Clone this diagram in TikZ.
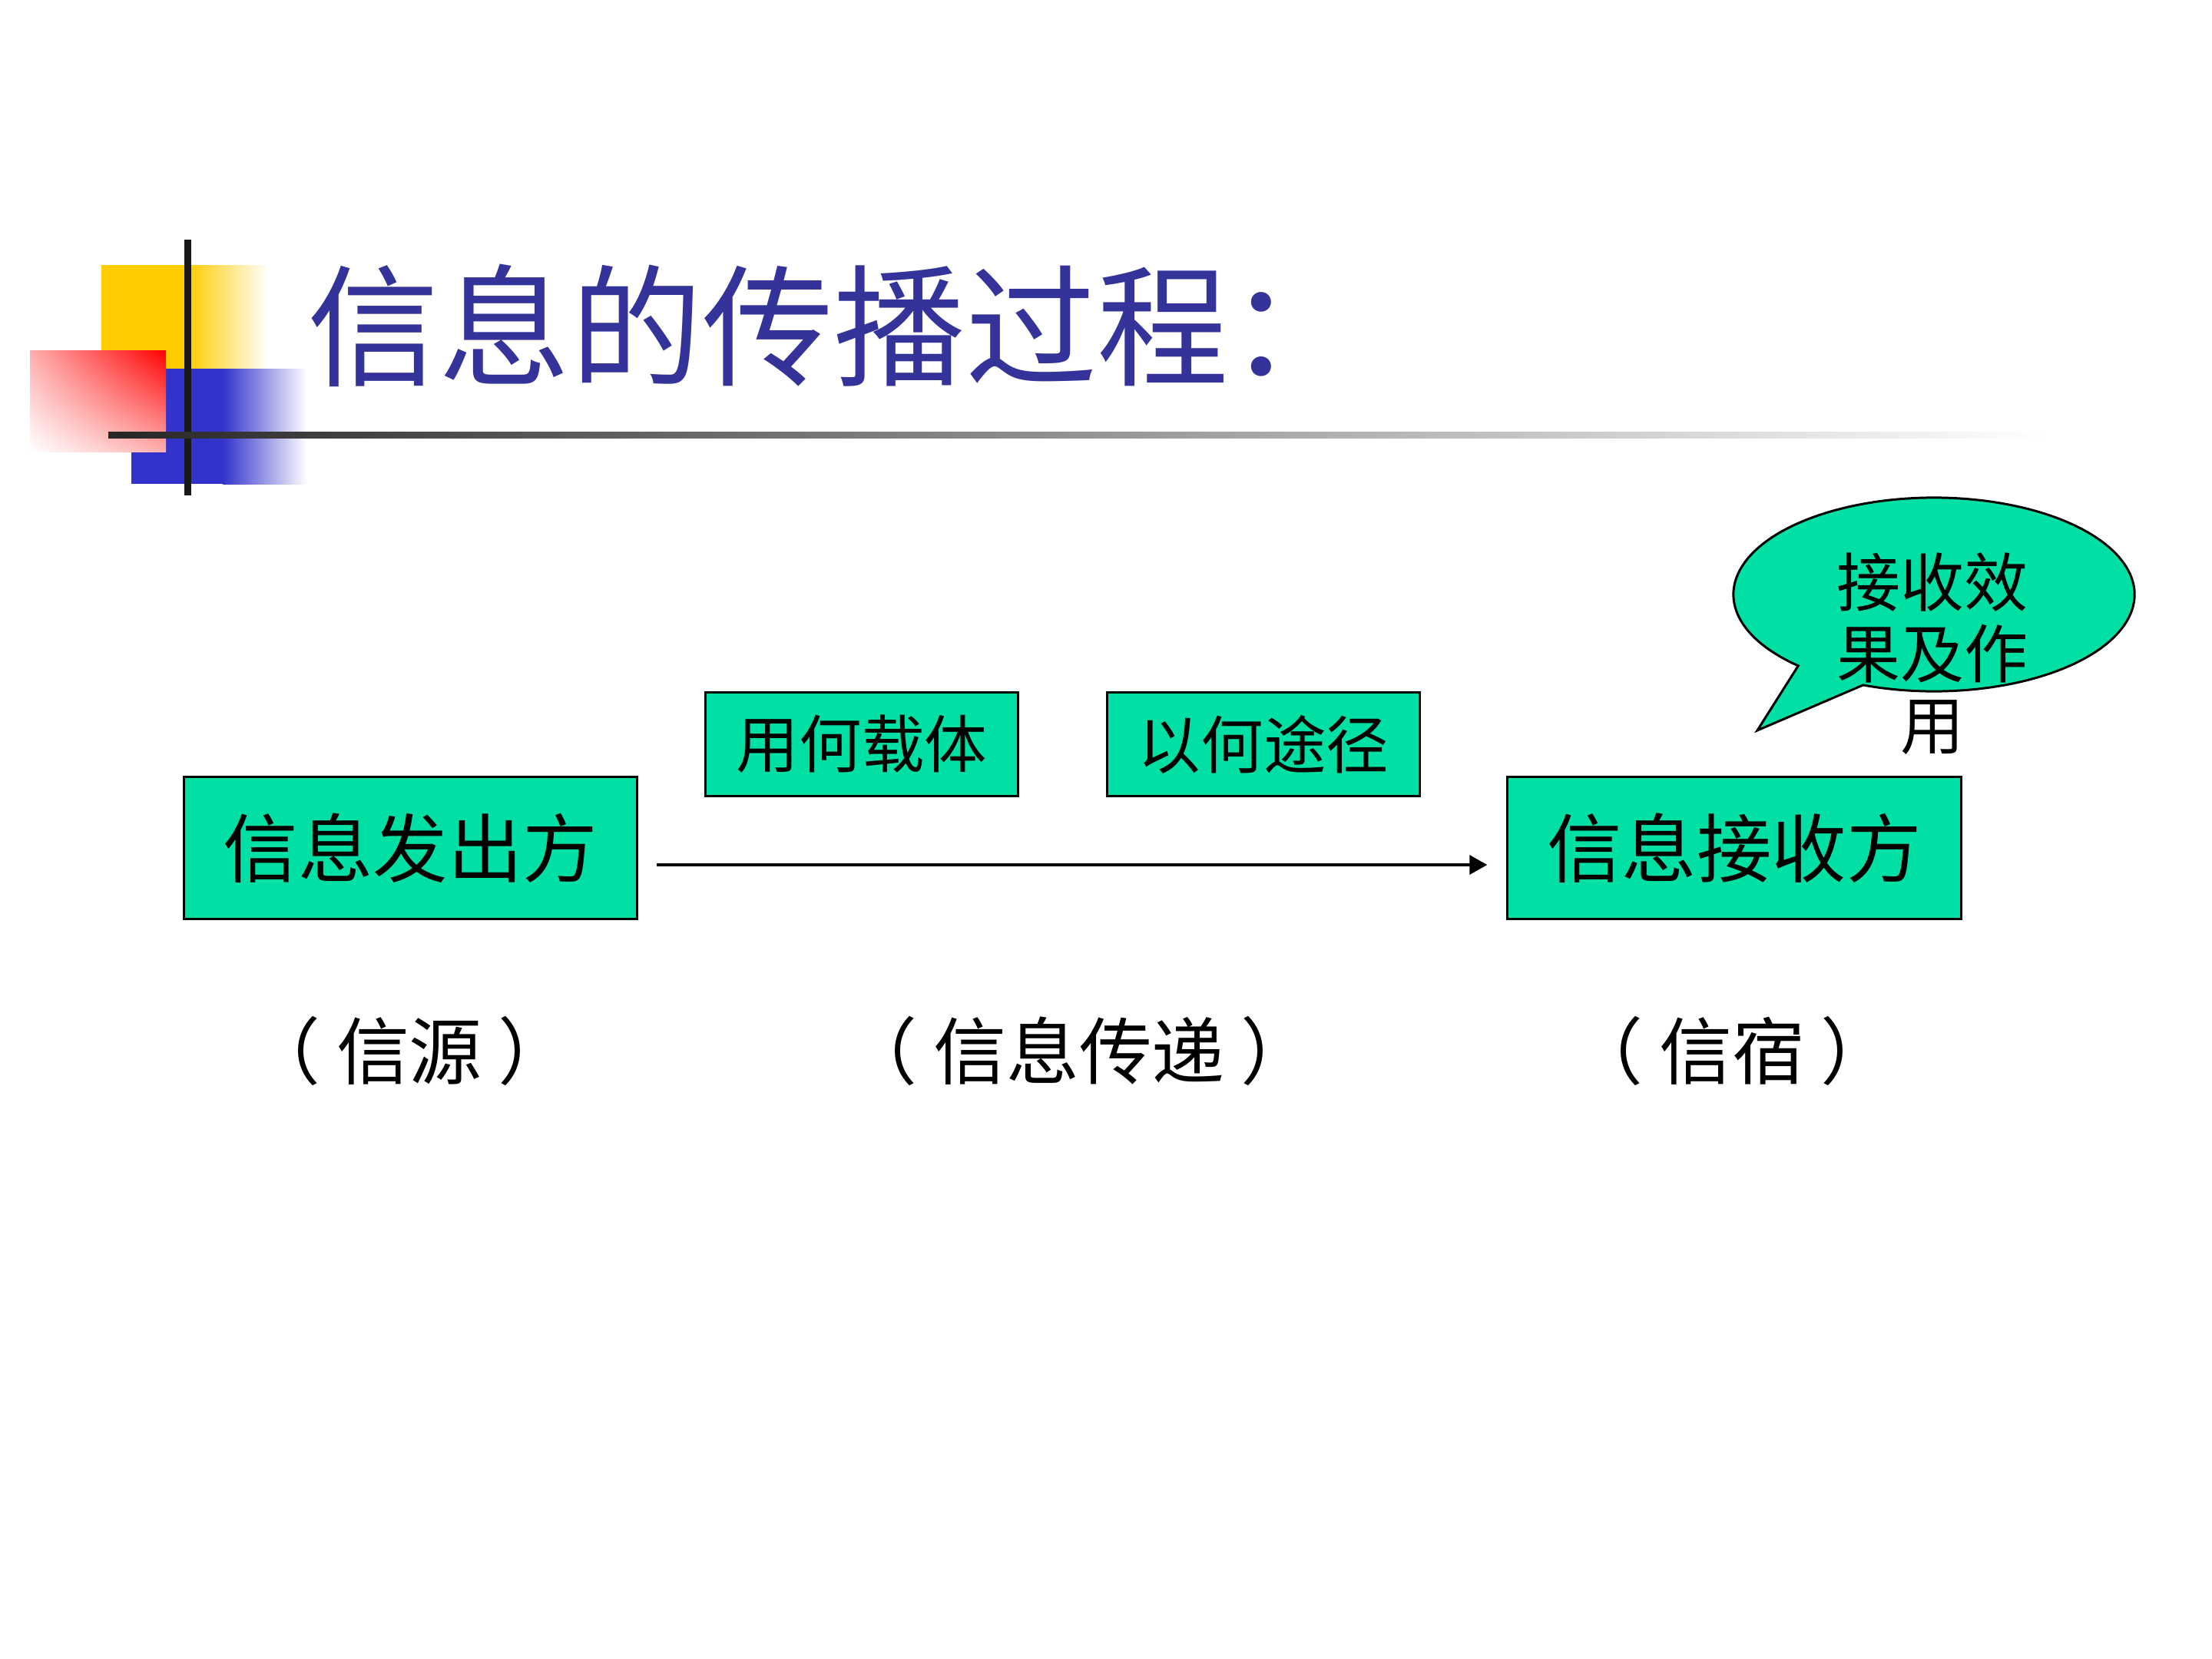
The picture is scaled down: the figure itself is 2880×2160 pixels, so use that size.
\documentclass[tikz,border=0pt]{standalone}
\usepackage{fontspec}
\setmainfont{Noto Sans CJK SC}
\usetikzlibrary{arrows.meta,calc,shadings}
\definecolor{gfill}{RGB}{0,224,164}
\definecolor{titleblue}{RGB}{51,51,153}
\definecolor{yel}{RGB}{255,204,0}
\definecolor{blu}{RGB}{51,51,204}
\tikzset{
  bigbox/.style={draw=black, line width=0.85pt, fill=gfill, inner sep=0pt,
    minimum width=5.9cm, minimum height=1.84cm, font=\fontsize{27.7pt}{33pt}\selectfont},
  smallbox/.style={draw=black, line width=0.85pt, fill=gfill, inner sep=0pt,
    minimum width=4.07cm, minimum height=1.34cm, font=\fontsize{23.2pt}{28pt}\selectfont},
  lbl/.style={inner sep=0pt, font=\fontsize{27pt}{32pt}\selectfont},
  flow/.style={line width=1pt, -{Triangle[length=0.23cm,width=0.25cm]}, shorten <=0.24cm, shorten >=0.25cm},
}
\newcommand{\pgap}{\kern0.22em}
\begin{document}
\begin{tikzpicture}[x=0.01cm, y=-0.01cm]
\useasboundingbox (0,0) rectangle (2880,2160);
\fill[white] (0,0) rectangle (2880,2160);
% decoration
\fill[yel] (132,345) rectangle (245,480);
\shade[left color=yel, right color=white] (244,345) rectangle (350,480);
\fill[blu] (171,480) rectangle (291,630);
\shade[left color=blu, right color=white] (290,480) rectangle (400,630);
\shade[upper right=red, lower left=white, upper left=red!32, lower right=red!32] (39,456) rectangle (216,588);
\fill[black!90] (240,312) rectangle (249,645);
\shade[left color=black!85, right color=white] (141,562) rectangle (2663,570);
% title
\node[anchor=west, inner sep=0pt, text=titleblue, font=\fontsize{48.7pt}{56pt}\selectfont] (title) at (400,424) {信息的传播过程：};
% boxes
\node[bigbox] (src) at (534.5,1104) {信息发出方};
\node[smallbox] (car) at (1122,969) {用何载体};
\node[smallbox] (way) at (1645,969) {以何途径};
\node[bigbox] (dst) at (2258,1104) {信息接收方};
\draw[flow] ([yshift=-0.22cm]src.east) -- ([yshift=-0.22cm]dst.west);
% labels
\node[lbl] (l1) at (533,1368) {（\pgap 信源\pgap ）};
\node[lbl] (l2) at (1405,1368) {（\pgap 信息传递\pgap ）};
\node[lbl] (l3) at (2255,1368) {（\pgap 信宿\pgap ）};
% callout
\coordinate (cc) at (2518,774);
\coordinate (lb) at ($(cc)+(227.4:2.61cm and 1.26cm)$);
\coordinate (rb) at ($(cc)+(249.3:2.61cm and 1.26cm)$);
\coordinate (tip) at (2288,951);
\draw[line width=0.85pt, fill=gfill] (lb) -- (tip) -- (rb) arc[start angle=249.3, end angle=587.4, x radius=2.61cm, y radius=1.26cm] -- cycle;
\node[inner sep=0pt, align=center, font=\fontsize{23.6pt}{26.5pt}\selectfont] (note) at (2516,851) {接收效\\果及作\\用};
\end{tikzpicture}
\end{document}
